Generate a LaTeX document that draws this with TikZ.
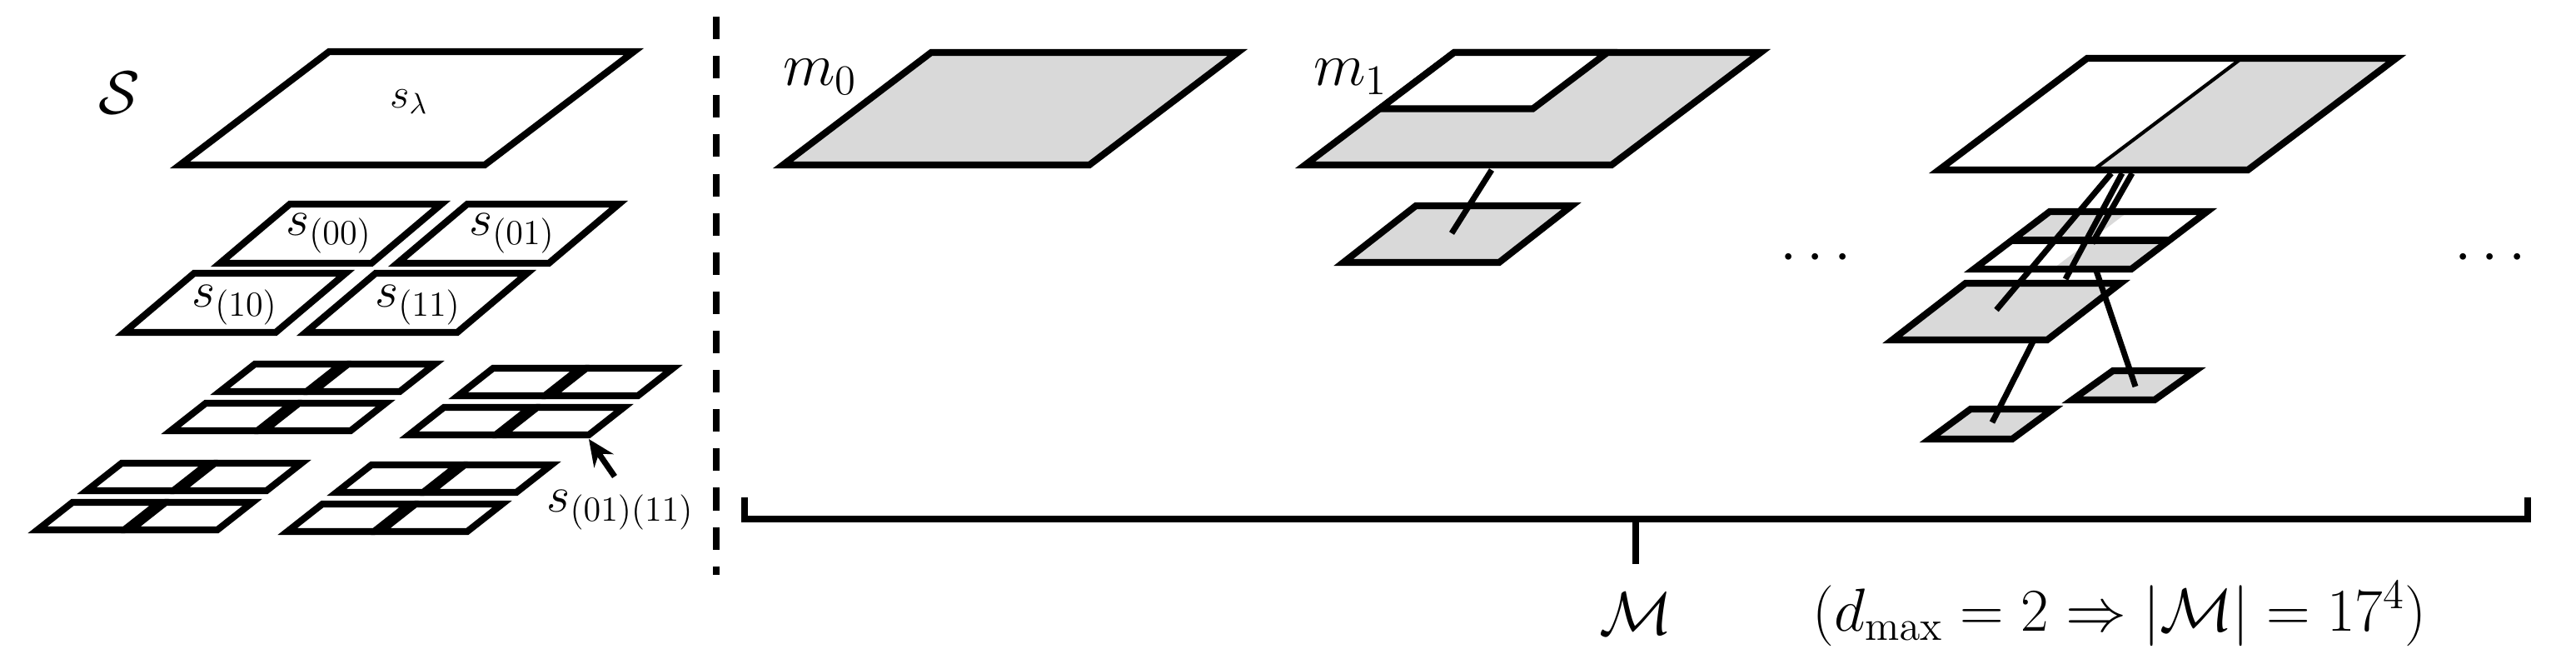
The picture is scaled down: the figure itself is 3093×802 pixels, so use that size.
\documentclass[tikz,border=0pt]{standalone}
\usetikzlibrary{arrows.meta}
\definecolor{cellgray}{RGB}{217,217,217}
\newcommand{\pq}[6][]{\path[#1] (#2,#3) -- ++(#4,0) -- ++(#6,-#5) -- ++(-#4,0) -- cycle;}
\newcommand{\grp}[2]{\foreach \r in {0,1}{\foreach \c in {0,1}{\pq[edge]{#1+\c*112+\r*59}{#2-\r*47}{104}{33}{42}}}}
\tikzset{
  edge/.style={draw=black,line width=2.3pt,line join=miter},
  grayedge/.style={edge,fill=cellgray},
  link/.style={line width=2pt},
  lbl/.style={inner sep=0pt}
}
\begin{document}
\begin{tikzpicture}[x=0.01cm,y=-0.01cm]
\useasboundingbox (0,0) rectangle (3093,802);
% left: S
\node[lbl,font=\fontsize{22}{26}\selectfont] (S) at (143,112) {$\mathcal{S}$};
\pq[edge]{216}{198}{366}{136}{179}
\node[lbl,font=\fontsize{14}{17}\selectfont] (sl) at (491,122) {$s_\lambda$};
\pq[edge]{264}{316}{182}{71}{84}
\pq[edge]{477}{316}{182}{71}{84}
\pq[edge]{149}{399}{182}{71}{84}
\pq[edge]{367}{399}{182}{71}{84}
\node[lbl,font=\fontsize{18}{21}\selectfont] (s00) at (395,280) {$s_{(00)}$};
\node[lbl,font=\fontsize{18}{21}\selectfont] (s01) at (615,280) {$s_{(01)}$};
\node[lbl,font=\fontsize{18}{21}\selectfont] (s10) at (282,366) {$s_{(10)}$};
\node[lbl,font=\fontsize{18}{21}\selectfont] (s11) at (502,366) {$s_{(11)}$};
\grp{205}{517}
\grp{491}{522}
\grp{45}{636}
\grp{345}{638}
\node[lbl,font=\fontsize{17}{20}\selectfont] (s0111) at (745,612) {$s_{(01)(11)}$};
\coordinate (tip) at (707,527);
\draw[line width=2pt,-{Stealth[length=9pt,width=8pt]}] (738,572) -- (tip);
% dashed separator
\draw[line width=2.3pt,dash pattern=on 7.7pt off 5.7pt] (860,20) -- (860,690);
% m0
\pq[grayedge]{940}{198}{368}{135}{178}
\node[lbl,font=\fontsize{22}{26}\selectfont] (m0) at (985,92) {$m_0$};
% m1
\pq[grayedge]{1567}{198}{368}{135}{179}
\pq[edge,fill=white]{1656.5}{130.5}{184}{67.5}{89.5}
\node[lbl,font=\fontsize{22}{26}\selectfont] (m1) at (1622,92) {$m_1$};
\pq[grayedge]{1613}{315}{187}{68}{87}
\coordinate (m1a) at (1791,204);
\coordinate (m1b) at (1743,280);
\draw[link] (m1a) -- (m1b);
\node[lbl,font=\fontsize{20}{24}\selectfont] (d1) at (2180,310) {$\cdots$};
% m2
\pq[fill=cellgray]{2513.5}{204}{185.5}{134}{178}
\draw[line width=1.2pt] (2513.5,204) -- (2691.5,70);
\pq[edge]{2328}{204}{371}{134}{178}
\pq[fill=cellgray]{2415.5}{288.5}{94.5}{34.5}{45.5}
\pq[fill=cellgray]{2464.5}{323}{94.5}{34.5}{45.5}
\pq[edge]{2370}{323}{189}{69}{91}
\draw[edge] (2415.5,288.5) -- (2604.5,288.5);
\pq[grayedge]{2272}{408}{186}{68}{88}
\pq[grayedge]{2317}{527}{99}{36}{49}
\pq[grayedge]{2488}{480}{99}{35}{49}
\coordinate (a1) at (2535,208); \coordinate (a2) at (2397,372);
\coordinate (b1) at (2548,208); \coordinate (b2) at (2480,335);
\coordinate (c1) at (2560,208); \coordinate (c2) at (2512,292);
\coordinate (d1a) at (2517,325); \coordinate (d2) at (2564,464);
\coordinate (e1) at (2441,410); \coordinate (e2) at (2392,507);
\draw[link] (a1) -- (a2);
\draw[link] (b1) -- (b2);
\draw[link] (c1) -- (c2);
\draw[link] (d1a) -- (d2);
\draw[link] (e1) -- (e2);
\node[lbl,font=\fontsize{20}{24}\selectfont] (d2n) at (2990,310) {$\cdots$};
% brace
\coordinate (bl) at (894,597); \coordinate (br) at (3035,597);
\coordinate (bm) at (1964,623); \coordinate (bt) at (1964,677);
\draw[line width=2.2pt] (bl) |- (br |- bm) -- (br);
\draw[line width=2.2pt] (bm) -- (bt);
\node[lbl,font=\fontsize{21}{25}\selectfont] (M) at (1964,737) {$\mathcal{M}$};
\node[lbl,font=\fontsize{21}{25}\selectfont] (form) at (2545,737) {$(d_{\max}=2\Rightarrow|\mathcal{M}|=17^4)$};
\end{tikzpicture}
\end{document}
